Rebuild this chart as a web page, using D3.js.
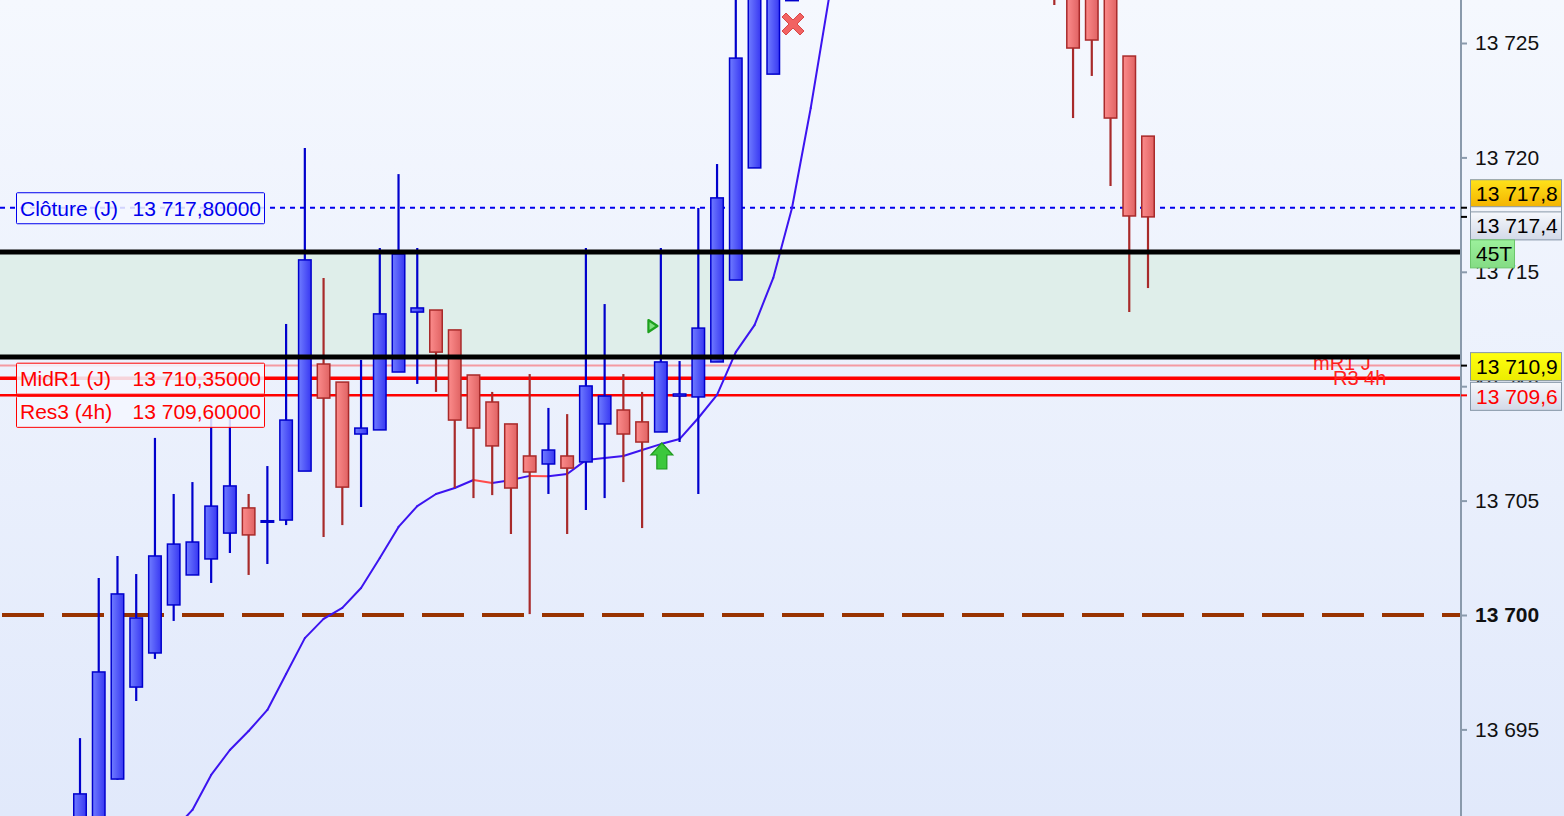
<!DOCTYPE html>
<html><head><meta charset="utf-8">
<script src="https://cdn.jsdelivr.net/npm/d3@7/dist/d3.min.js"></script>
<style>html,body{margin:0;padding:0;overflow:hidden;background:#eef3fd}svg{display:block}</style>
</head><body><svg id="c" width="1564" height="816"></svg>
<script>
// ---------- DATA ----------
const opens  = [13689.73,13690.60,13692.83,13696.85,13698.34,13700.44,13701.75,13702.45,13703.58,13704.68,
                13704.10,13704.15,13706.29,13710.97,13710.18,13707.91,13708.09,13710.62,13713.24,13713.33,
                13712.46,13710.49,13709.31,13708.35,13706.95,13706.60,13706.95,13706.69,13708.35,13708.96,
                13708.44,13708.00,13709.57,13709.53,13711.06,13714.64,13719.54,13723.64,13726.85,13734.5,
                13737,13739.5,13737.5,13740.5,13742.5,13740.5,13738.5,13740,13736.5,13734.5,
                13735.5,13732,13733,13731,13728.2,13729.0,13724.43,13720.93];
const highs  = [13694.62,13701.62,13702.58,13701.79,13707.74,13705.29,13705.81,13708.61,13708.78,13705.29,
                13706.51,13712.72,13720.41,13714.73,13710.18,13711.15,13716.04,13719.27,13716.04,13713.33,
                13712.46,13710.49,13709.75,13708.35,13710.53,13709.05,13708.78,13716.04,13713.59,13710.53,
                13709.75,13716.04,13711.10,13717.79,13719.71,13728.19,13731.5,13734.0,13736.0,13738,
                13741,13742,13741,13744,13745,13743,13741.5,13742,13738.5,13737,
                13736.5,13734.5,13734,13731.5,13728.8,13729.5,13724.43,13720.93];
const lows   = [13689.29,13690.17,13692.80,13696.24,13698.08,13699.74,13701.75,13701.40,13702.71,13701.75,
                13702.23,13703.93,13706.29,13703.41,13703.93,13704.72,13708.09,13710.62,13710.10,13709.75,
                13705.55,13705.11,13705.24,13703.54,13700.04,13705.29,13703.54,13704.59,13705.11,13705.81,
                13703.80,13708.00,13707.56,13705.29,13711.06,13714.64,13719.54,13723.64,13726.85,13733,
                13735,13736,13735.5,13739,13739.5,13737.5,13736.5,13735.5,13733,13732,
                13731,13729.5,13726.66,13721.72,13723.56,13718.75,13713.24,13714.29];
const closes = [13692.18,13697.51,13700.92,13699.87,13702.58,13703.10,13703.19,13704.76,13705.64,13703.50,
                13704.12,13708.52,13715.52,13709.48,13705.59,13708.17,13713.16,13715.78,13713.42,13711.49,
                13708.52,13708.17,13707.39,13705.55,13706.25,13707.21,13706.42,13710.01,13709.57,13707.91,
                13707.56,13711.06,13709.66,13712.54,13718.23,13724.34,13730.5,13733.0,13734.5,13737,
                13739.5,13737.5,13740.5,13742.5,13740.5,13738.5,13740,13736.5,13734.5,13735.5,
                13732,13733,13729.5,13724.78,13725.13,13721.72,13717.44,13717.40];
const maValues = [null,null,null,null,null,13690.60,13691.48,13693.01,13694.10,13694.93,
                13695.85,13697.42,13698.99,13699.83,13700.31,13701.18,13702.49,13703.85,13704.76,13705.29,
                13705.55,13705.90,13705.77,13705.90,13706.08,13706.06,13706.16,13706.77,13706.86,13706.95,
                13707.21,13707.47,13707.69,13708.61,13709.62,13711.49,13712.67,13714.73,13717.79,13722.16,
                13727.10,13731.0,13733.5,13735.5,13737.0,13738.0,13738.6,13738.9,13738.8,13738.5,
                13738.0,13737.5,13736.5,13735.5,13734.5,13733.0,13731.5,13730.0];
const yTicks = [13695,13700,13705,13710,13715,13720,13725];
const zoneTop = 13715.87, zoneBottom = 13711.28;
const closeLevel = 13717.80, midR1 = 13710.35, res3 = 13709.60, mR1Line = 13710.90, lastPrice = 13717.40;
const leftLabels = [
  {name:"Clôture (J)", value:"13 717,80000", price:13717.80, color:"#0000ee"},
  {name:"MidR1 (J)",   value:"13 710,35000", price:13710.35, color:"#ff0000"},
  {name:"Res3 (4h)",   value:"13 709,60000", price:13709.60, color:"#ff0000"}
];
const rightLabels = [
  {text:"13 717,8", price:13717.80, shift:-14, fill:"gold",  color:"#000"},
  {text:"13 717,8", price:13717.80, shift:13,  fill:"grey",  color:"#0000ee"},
  {text:"13 717,4", price:13717.40, shift:9,   fill:"grey",  color:"#000"},
  {text:"45T",      price:13717.40, shift:37,  fill:"green", color:"#000"},
  {text:"13 710,9", price:13710.90, shift:1,   fill:"yellow",color:"#000"},
  {text:"13 709,6", price:13709.60, shift:1,   fill:"grey",  color:"#ff0000"}
];
const sellMark = {i:38, price:13725.83};
const buyArrow = {i:31, price:13706.95};
const triMark  = {i:30.55, price:13712.63};

// ---------- SCALES ----------
const W = 1564, H = 816, plotR = 1461;
const svg = d3.select("#c");
const x = d3.scaleLinear().domain([0, 57]).range([80, 1148]);
const y = d3.scaleLinear().domain([13700, 13725]).range([615, 43]);
const FONT = "'Liberation Sans', Arial, Helvetica, sans-serif";

const defs = svg.append("defs");
function vgrad(id, stops){ const g=defs.append("linearGradient").attr("id",id).attr("x1",0).attr("x2",0).attr("y1",0).attr("y2",1);
  stops.forEach(s=>g.append("stop").attr("offset",s[0]).attr("stop-color",s[1])); }
function hgrad(id, stops){ const g=defs.append("linearGradient").attr("id",id).attr("x1",0).attr("x2",1).attr("y1",0).attr("y2",0);
  stops.forEach(s=>g.append("stop").attr("offset",s[0]).attr("stop-color",s[1])); }
vgrad("bg", [[0,"#f5f8fe"],[1,"#e1e9fb"]]);
hgrad("gBlue", [[0,"#6f7cff"],[1,"#3838f2"]]);
hgrad("gRed", [[0,"#fc8c8c"],[1,"#e06363"]]);
vgrad("gGold", [[0,"#ffe21a"],[1,"#f3b200"]]);
vgrad("gGrey", [[0,"#f6f8fc"],[1,"#d2d9e8"]]);
vgrad("gYellow", [[0,"#ffff10"],[1,"#ecec00"]]);
vgrad("gGreen", [[0,"#9cf09c"],[1,"#84dc84"]]);
defs.append("clipPath").attr("id","plotClip").append("rect").attr("x",0).attr("y",0).attr("width",plotR).attr("height",H);

svg.append("rect").attr("width",W).attr("height",H).attr("fill","url(#bg)");

const plot = svg.append("g").attr("clip-path","url(#plotClip)");

// zone
plot.append("rect").attr("x",0).attr("width",plotR)
  .attr("y", y(zoneTop)).attr("height", y(zoneBottom)-y(zoneTop)).attr("fill","#dfeeea");

// 13700 dashed
plot.append("line").attr("x1",2).attr("x2",plotR).attr("y1",y(13700)).attr("y2",y(13700))
  .attr("stroke","#993300").attr("stroke-width",4).attr("stroke-dasharray","42,18");

// horizontal level lines
function hline(p, color, w, dash){ const l=plot.append("line").attr("x1",0).attr("x2",plotR).attr("y1",y(p)).attr("y2",y(p))
  .attr("stroke",color).attr("stroke-width",w); if(dash) l.attr("stroke-dasharray",dash); return l; }
hline(mR1Line, "#f49aa2", 2);
hline(midR1, "#ff0000", 3.5);
hline(res3, "#ff0000", 2.5);
hline(closeLevel, "#0000ee", 2, "5,5");

// level texts
plot.append("text").attr("x",1313).attr("y",y(mR1Line)+4).attr("fill","#ff2020").attr("font-family",FONT).attr("font-size",20).text("mR1 J");
plot.append("text").attr("x",1333).attr("y",y(res3)-10).attr("fill","#ff2020").attr("font-family",FONT).attr("font-size",20).text("R3 4h");

// MA line
const maPts = maValues.map((v,i)=>v==null?null:[x(i),y(v),v]).filter(d=>d);
for(let k=0;k<maPts.length-1;k++){
  const a=maPts[k], b=maPts[k+1];
  plot.append("line").attr("x1",a[0]).attr("y1",a[1]).attr("x2",b[0]).attr("y2",b[1])
    .attr("stroke", b[2] <= a[2] ? "#ff4a4a" : "#3c14f0").attr("stroke-width",2).attr("stroke-linecap","round");
}

// candles
const bw = 12.5;
const candles = opens.map((o,i)=>({i,o,h:highs[i],l:lows[i],c:closes[i],up:closes[i]>=o}));
const cg = plot.append("g").selectAll("g").data(candles).join("g");
cg.append("line").attr("x1",d=>x(d.i)).attr("x2",d=>x(d.i)).attr("y1",d=>y(d.h)).attr("y2",d=>y(d.l))
  .attr("stroke",d=>d.up?"#0000cc":"#a82a2a").attr("stroke-width",2.2);
cg.append("rect").attr("x",d=>x(d.i)-bw/2).attr("width",bw)
  .attr("y",d=>y(Math.max(d.o,d.c))).attr("height",d=>Math.max(1.5,Math.abs(y(d.o)-y(d.c))))
  .attr("fill",d=>d.up?"url(#gBlue)":"url(#gRed)")
  .attr("stroke",d=>d.up?"#0000cc":"#a82a2a").attr("stroke-width",1.5);

// markers
{
  const cx=x(sellMark.i)+1, cy=y(sellMark.price), a=11, t=4;
  const p = `M${-a+t},${-a} L0,${-t} L${a-t},${-a} L${a},${-a+t} L${t},0 L${a},${a-t} L${a-t},${a} L0,${t} L${-a+t},${a} L${-a},${a-t} L${-t},0 L${-a},${-a+t} Z`;
  plot.append("path").attr("d",p).attr("transform",`translate(${cx},${cy})`).attr("fill","#f26262").attr("stroke","#d84848").attr("stroke-width",1);
}
{
  const cx=x(buyArrow.i)+1, cy=y(buyArrow.price);
  const p = `M0,-13 L11,-1 L5,-1 L5,13 L-5,13 L-5,-1 L-11,-1 Z`;
  plot.append("path").attr("d",p).attr("transform",`translate(${cx},${cy})`).attr("fill","#3cc83c").attr("stroke","#1e9a1e").attr("stroke-width",1.2);
}
{
  const cx=x(triMark.i), cy=y(triMark.price);
  plot.append("path").attr("d","M-4,-6 L5,0 L-4,6 Z").attr("transform",`translate(${cx},${cy})`)
    .attr("fill","#7ee07e").attr("stroke","#1ea01e").attr("stroke-width",2.2).attr("stroke-linejoin","round");
}

// thick black lines (zone borders)
hline(zoneTop, "#000", 5);
hline(zoneBottom, "#000", 5);

// left labels
leftLabels.forEach(d=>{
  const cy=y(d.price);
  let top = cy-15;
  if(d.name.startsWith("Res3")) top = cy+1;
  const g = svg.append("g");
  g.append("rect").attr("x",16.5).attr("y",top).attr("width",248).attr("height",31)
    .attr("fill","rgba(244,247,255,0.86)").attr("stroke",d.color).attr("stroke-width",1).attr("rx",1);
  g.append("text").attr("x",20).attr("y",top+23).attr("fill",d.color).attr("font-family",FONT).attr("font-size",21).text(d.name);
  g.append("text").attr("x",261).attr("y",top+23).attr("text-anchor","end").attr("fill",d.color).attr("font-family",FONT).attr("font-size",21).text(d.value);
});

// right axis
const fmt = d3.formatLocale({decimal:",", thousands:" ", grouping:[3], currency:["",""]}).format(",d");
const ax = svg.append("g").attr("transform",`translate(${plotR},0)`)
  .call(d3.axisRight(y).tickValues(yTicks).tickFormat(fmt).tickSize(6).tickPadding(8));
ax.select(".domain").remove();
ax.selectAll(".tick line").attr("stroke","#8a9aac").attr("stroke-width",2);
ax.selectAll(".tick text").attr("font-family",FONT).attr("font-size",21).attr("fill","#111")
  .attr("font-weight",d=>d===13700?"bold":"normal");
svg.append("line").attr("x1",plotR).attr("x2",plotR).attr("y1",0).attr("y2",H).attr("stroke","#8a9aac").attr("stroke-width",2);

// price ticks on axis
[[closeLevel,"#000"],[lastPrice,"#000"],[mR1Line,"#000"],[res3,"#ff0000"]].forEach(t=>{
  svg.append("line").attr("x1",plotR).attr("x2",plotR+6).attr("y1",y(t[0])).attr("y2",y(t[0])).attr("stroke",t[1]).attr("stroke-width",2);
});

// right labels
rightLabels.forEach(d=>{
  const cy=y(d.price)+d.shift;
  const w = d.text==="45T"?44:91;
  const fill = {gold:"url(#gGold)",grey:"url(#gGrey)",yellow:"url(#gYellow)",green:"url(#gGreen)"}[d.fill];
  const stroke = d.fill==="green"?"#6cc66c":"#8797a8";
  svg.append("rect").attr("x",1470.5).attr("y",cy-14).attr("width",w).attr("height",28)
    .attr("fill",fill).attr("stroke",stroke).attr("stroke-width",1);
  svg.append("text").attr("x",1476).attr("y",cy+7.5).attr("fill",d.color).attr("font-family",FONT).attr("font-size",21).text(d.text);
});
</script></body></html>
